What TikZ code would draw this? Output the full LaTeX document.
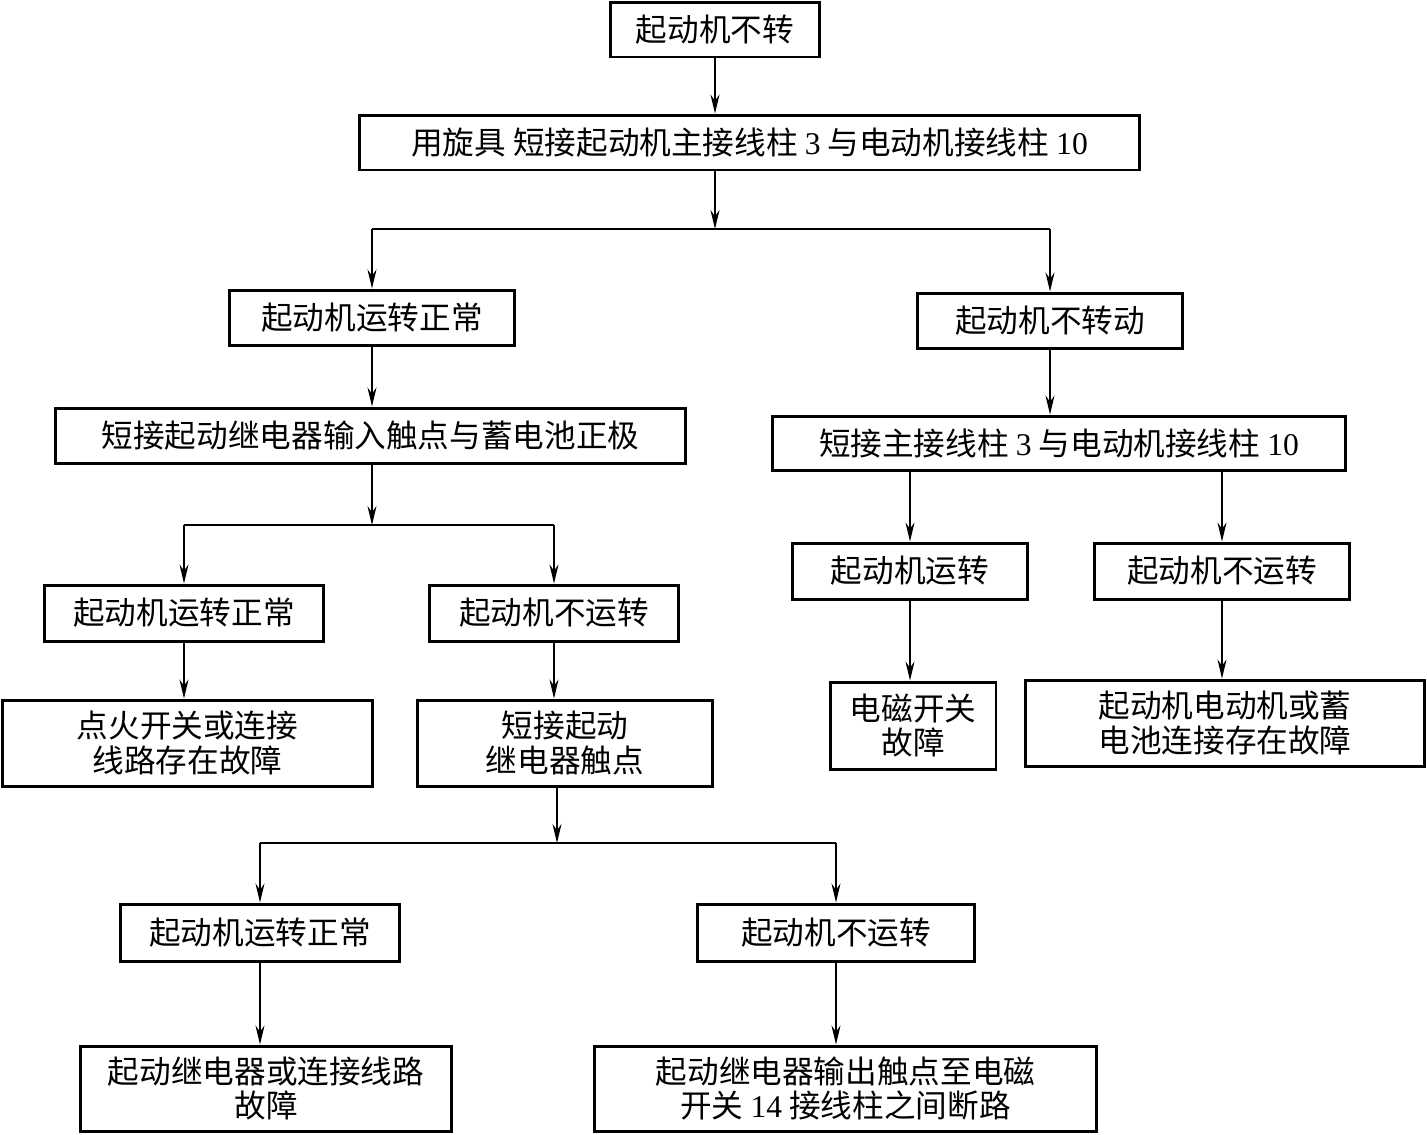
\documentclass[tikz,border=0pt]{standalone}
\usepackage{fontspec}
\setmainfont{Liberation Serif}
\newfontfamily\cjk{Noto Sans CJK SC}
\usetikzlibrary{arrows.meta}
\newcommand{\sz}[1]{{\rmfamily #1}}
\tikzset{
  kuang/.style={draw,line width=1.7pt,inner sep=0pt,align=center,
    font=\cjk\fontsize{18}{19.5}\selectfont},
  jian/.style={-{Stealth[length=3.8mm,width=1.8mm]},line width=0.75pt},
  xian/.style={line width=0.75pt},
}

\begin{document}
\begin{tikzpicture}[x=0.02cm,y=-0.02cm]
  \useasboundingbox (0,0) rectangle (1427,1134);
  % top
  \node[kuang,minimum width=4.2cm,minimum height=1.1cm] (n1) at (715,29.5) {起动机不转};
  \node[kuang,minimum width=15.62cm,minimum height=1.1cm] (n2) at (749.5,142.5)
    {用旋具 短接起动机主接线柱 \sz{3} 与电动机接线柱 \sz{10}};
  % left branch
  \node[kuang,minimum width=5.72cm,minimum height=1.1cm] (n3) at (372,317.5) {起动机运转正常};
  \node[kuang,minimum width=12.62cm,minimum height=1.1cm] (n5) at (370.5,435.5) {短接起动继电器输入触点与蓄电池正极};
  \node[kuang,minimum width=5.58cm,minimum height=1.12cm] (n7) at (184,613) {起动机运转正常};
  \node[kuang,minimum width=4.98cm,minimum height=1.12cm] (n8) at (554,613) {起动机不运转};
  \node[kuang,minimum width=7.42cm,minimum height=1.72cm] (n9) at (187.5,743) {点火开关或连接\\线路存在故障};
  \node[kuang,minimum width=5.92cm,minimum height=1.72cm] (n10) at (565,743) {短接起动\\继电器触点};
  \node[kuang,minimum width=5.58cm,minimum height=1.14cm] (n11) at (260,932.5) {起动机运转正常};
  \node[kuang,minimum width=5.54cm,minimum height=1.14cm] (n12) at (836,932.5) {起动机不运转};
  \node[kuang,minimum width=7.44cm,minimum height=1.7cm] (n13) at (266,1088.5) {起动继电器或连接线路\\故障};
  \node[kuang,minimum width=10.06cm,minimum height=1.7cm] (n14) at (845.5,1088.5)
    {起动继电器输出触点至电磁\\开关 \sz{14} 接线柱之间断路};
  % right branch
  \node[kuang,minimum width=5.32cm,minimum height=1.1cm] (n4) at (1050,320.5) {起动机不转动};
  \node[kuang,minimum width=11.48cm,minimum height=1.08cm] (n6) at (1059,443)
    {短接主接线柱 \sz{3} 与电动机接线柱 \sz{10}};
  \node[kuang,minimum width=4.7cm,minimum height=1.12cm] (n15) at (910,571) {起动机运转};
  \node[kuang,minimum width=5.1cm,minimum height=1.12cm] (n16) at (1222,571) {起动机不运转};
  \node[kuang,minimum width=3.32cm,minimum height=1.74cm] (n17) at (913,725.5) {电磁开关\\故障};
  \node[kuang,minimum width=8cm,minimum height=1.72cm] (n18) at (1225,723) {起动机电动机或蓄\\电池连接存在故障};

  % bus points
  \coordinate (b1) at (715,229);
  \coordinate (b2) at (372,525);
  \coordinate (b3) at (557,843);

  \draw[jian] (n1.south) -- (n1.south |- n2.north);
  \draw[jian] (b1 |- n2.south) -- (b1);
  \draw[xian] (n3.north |- b1) -- (n4.north |- b1);
  \draw[jian] (n3.north |- b1) -- (n3.north);
  \draw[jian] (n4.north |- b1) -- (n4.north);

  \draw[jian] (n3.south) -- (n3.south |- n5.north);
  \draw[jian] (b2 |- n5.south) -- (b2);
  \draw[xian] (n7.north |- b2) -- (n8.north |- b2);
  \draw[jian] (n7.north |- b2) -- (n7.north);
  \draw[jian] (n8.north |- b2) -- (n8.north);
  \draw[jian] (n7.south) -- (n7.south |- n9.north);
  \draw[jian] (n8.south) -- (n8.south |- n10.north);

  \draw[jian] (b3 |- n10.south) -- (b3);
  \draw[xian] (n11.north |- b3) -- (n12.north |- b3);
  \draw[jian] (n11.north |- b3) -- (n11.north);
  \draw[jian] (n12.north |- b3) -- (n12.north);
  \draw[jian] (n11.south) -- (n11.south |- n13.north);
  \draw[jian] (n12.south) -- (n12.south |- n14.north);

  \draw[jian] (n4.south) -- (n4.south |- n6.north);
  \draw[jian] (n15.north |- n6.south) -- (n15.north);
  \draw[jian] (n16.north |- n6.south) -- (n16.north);
  \draw[jian] (n15.south) -- (n15.south |- n17.north);
  \draw[jian] (n16.south) -- (n16.south |- n18.north);
\end{tikzpicture}
\end{document}
